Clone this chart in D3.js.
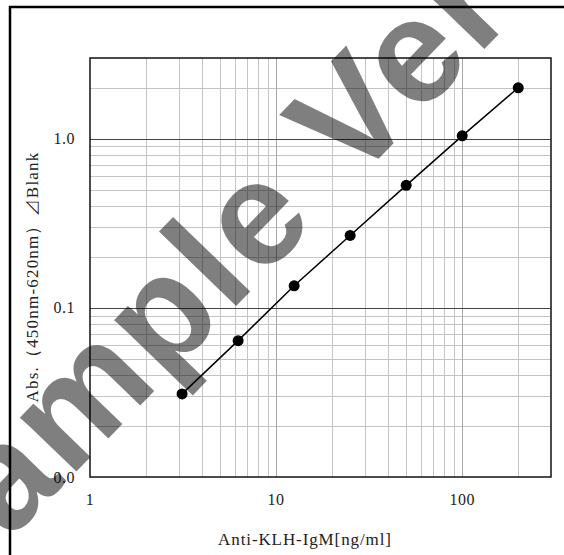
<!DOCTYPE html>
<html>
<head>
<meta charset="utf-8">
<script src="https://cdn.jsdelivr.net/npm/d3@7"></script>
<style>
  body { margin: 0; background: #fff; }
  text { font-family: "Liberation Serif", "DejaVu Serif", serif; fill: #222; }
</style>
</head>
<body>
<div id="chart"></div>
<script>
// data: two-fold dilution series
var conc = [3.125, 6.25, 12.5, 25, 50, 100, 200];
var absorb = [0.031, 0.064, 0.135, 0.268, 0.53, 1.04, 2.0];
var xTicks = [1, 10, 100];
var yTicks = [0.01, 0.1, 1];
var yTickLabels = ["0.0", "0.1", "1.0"];

var svgWidth = 564;
var svgHeight = 555;

var margin = { top: 58, right: 13, bottom: 78, left: 90 };
var width = svgWidth - margin.left - margin.right;
var height = svgHeight - margin.top - margin.bottom;

var svg = d3.select("#chart")
  .append("svg")
  .attr("width", svgWidth)
  .attr("height", svgHeight);

// outer frame (runs off the page on right/bottom)
svg.append("rect")
  .attr("x", 10).attr("y", 7)
  .attr("width", 700).attr("height", 700)
  .attr("fill", "none")
  .attr("stroke", "#000")
  .attr("stroke-width", 2.5);

var chartGroup = svg.append("g")
  .attr("transform", `translate(${margin.left}, ${margin.top})`);

var xScale = d3.scaleLog()
  .domain([1, 300])
  .range([0, width]);

var yScale = d3.scaleLog()
  .domain([0.01, 3])
  .range([height, 0]);

// minor grid
var xMinor = [];
[1, 10, 100].forEach(function(d) {
  for (var i = 2; i <= 9; i++) if (d * i < 300) xMinor.push(d * i);
});
var yMinor = [];
[0.01, 0.1, 1].forEach(function(d) {
  for (var i = 2; i <= 9; i++) if (d * i < 3) yMinor.push(d * i);
});

chartGroup.selectAll(".xminor")
  .data(xMinor)
  .enter()
  .append("line")
  .attr("x1", d => Math.round(xScale(d)) + 0.5)
  .attr("x2", d => Math.round(xScale(d)) + 0.5)
  .attr("y1", 0)
  .attr("y2", height)
  .attr("stroke", "#c4c4c4")
  .attr("stroke-width", 1);

chartGroup.selectAll(".yminor")
  .data(yMinor)
  .enter()
  .append("line")
  .attr("y1", d => Math.round(yScale(d)) + 0.5)
  .attr("y2", d => Math.round(yScale(d)) + 0.5)
  .attr("x1", 0)
  .attr("x2", width)
  .attr("stroke", "#c4c4c4")
  .attr("stroke-width", 1);

// major grid
chartGroup.selectAll(".xmajor")
  .data([10, 100])
  .enter()
  .append("line")
  .attr("x1", d => Math.round(xScale(d)) + 0.5)
  .attr("x2", d => Math.round(xScale(d)) + 0.5)
  .attr("y1", 0)
  .attr("y2", height)
  .attr("stroke", "#a8a8a8")
  .attr("stroke-width", 1);

chartGroup.selectAll(".ymajor")
  .data([0.1, 1])
  .enter()
  .append("line")
  .attr("y1", d => Math.round(yScale(d)) + 0.5)
  .attr("y2", d => Math.round(yScale(d)) + 0.5)
  .attr("x1", 0)
  .attr("x2", width)
  .attr("stroke", "#444")
  .attr("stroke-width", 1);

// plot border
chartGroup.append("rect")
  .attr("width", width)
  .attr("height", height)
  .attr("fill", "none")
  .attr("stroke", "#111")
  .attr("stroke-width", 1.5);

// tick labels
chartGroup.selectAll(".ylab")
  .data(yTicks)
  .enter()
  .append("text")
  .attr("x", -15)
  .attr("y", d => yScale(d))
  .attr("dy", "0.35em")
  .attr("text-anchor", "end")
  .style("font-size", "16px")
  .style("letter-spacing", "0.5px")
  .text((d, i) => yTickLabels[i]);

chartGroup.selectAll(".xlab")
  .data(xTicks)
  .enter()
  .append("text")
  .attr("x", d => xScale(d))
  .attr("y", height + 28)
  .attr("text-anchor", "middle")
  .style("font-size", "16px")
  .style("letter-spacing", "0.5px")
  .text(d => d);

// line + points
var line = d3.line()
  .x((d, i) => xScale(conc[i]))
  .y(d => yScale(d));

chartGroup.append("path")
  .datum(absorb)
  .attr("d", line)
  .attr("fill", "none")
  .attr("stroke", "#000")
  .attr("stroke-width", 1.5);

chartGroup.selectAll("circle")
  .data(absorb)
  .enter()
  .append("circle")
  .attr("cx", (d, i) => xScale(conc[i]))
  .attr("cy", d => yScale(d))
  .attr("r", 5.5)
  .attr("fill", "#000");

// axis titles
svg.append("text")
  .attr("transform", "translate(38, 277) rotate(-90)")
  .attr("text-anchor", "middle")
  .style("font-size", "17px")
  .style("letter-spacing", "1.2px")
  .text("Abs.（450nm-620nm）⊿Blank");

svg.append("text")
  .attr("x", 305)
  .attr("y", 545)
  .attr("text-anchor", "middle")
  .style("font-size", "17px")
  .style("letter-spacing", "0.9px")
  .text("Anti-KLH-IgM[ng/ml]");

// watermark
svg.append("text")
  .attr("transform", "translate(-62, 615) rotate(-46)")
  .style("font-family", "'Liberation Sans', Arial, sans-serif")
  .style("font-weight", "bold")
  .style("font-size", "148px")
  .style("letter-spacing", "4px")
  .style("fill", "#000")
  .style("fill-opacity", 0.5)
  .text("Sample Version");
</script>
</body>
</html>
